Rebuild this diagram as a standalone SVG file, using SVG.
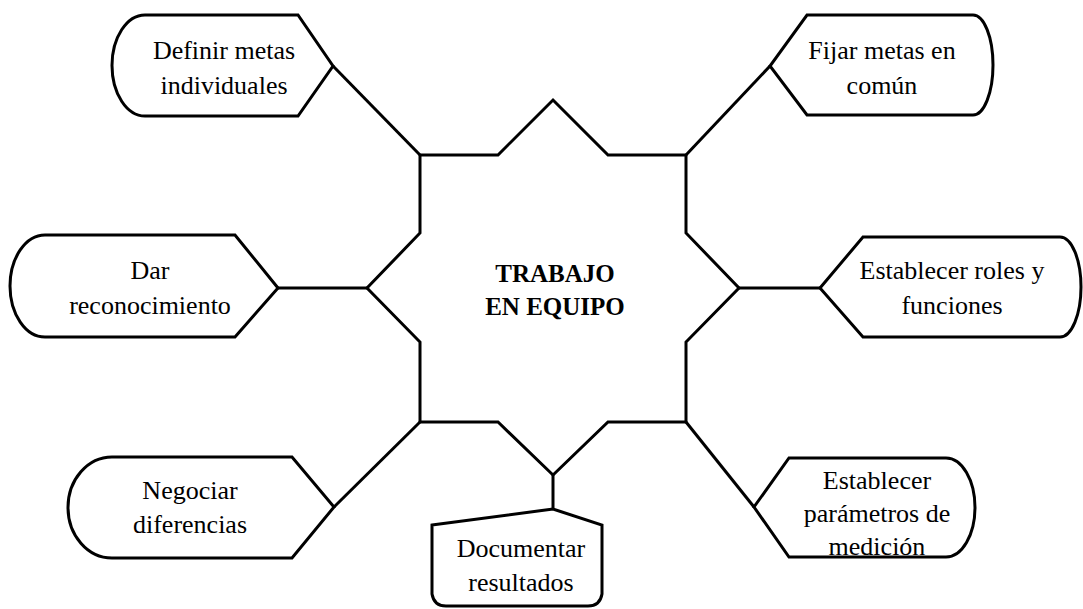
<svg xmlns="http://www.w3.org/2000/svg" width="1083" height="609" viewBox="0 0 1083 609">
<style>
.shape{fill:#fff;stroke:#000;stroke-width:3;stroke-linejoin:miter}
.conn line{stroke:#000;stroke-width:3}
text{font-family:'Liberation Serif','Times New Roman',Times,'DejaVu Serif',serif;fill:#000;text-anchor:middle}
.lbl{font-size:26px}
.ctr{font-size:25px;font-weight:bold}
</style>
<rect width="1083" height="609" fill="#fff"/>
<g id="connectors" class="conn">
<line x1="420" y1="155" x2="333" y2="66"/>
<line x1="686" y1="155" x2="770" y2="66"/>
<line x1="367" y1="288" x2="278" y2="288"/>
<line x1="739" y1="288" x2="820" y2="288"/>
<line x1="420" y1="422" x2="334" y2="507"/>
<line x1="686" y1="422" x2="754" y2="507"/>
<line x1="553" y1="475" x2="553" y2="509"/>
</g>
<g id="center">
<polygon class="shape" points="420,155 498,155 553,100 608,155 686,155 686,233 739,288 686,342 686,422 608,422 553,475 498,422 420,422 420,342 367,288 420,233"/>
<text class="ctr" x="555" y="282">TRABAJO</text>
<text class="ctr" x="555" y="315">EN EQUIPO</text>
</g>
<g id="definir">
<path class="shape" d="M145,15 L298,15 L333,66 L298,116 L145,116 A33,50.5 0 0 1 145,15 Z"/>
<text class="lbl" x="224" y="59">Definir metas</text>
<text class="lbl" x="224" y="94">individuales</text>
</g>
<g id="fijar">
<path class="shape" d="M807,15 L973,15 A20,50 0 0 1 973,115 L807,115 L770,66 Z"/>
<text class="lbl" x="882" y="59">Fijar metas en</text>
<text class="lbl" x="882" y="94">común</text>
</g>
<g id="dar">
<path class="shape" d="M45,235 L235,235 L278,288 L235,337 L45,337 A35,51 0 0 1 45,235 Z"/>
<text class="lbl" x="150" y="279">Dar</text>
<text class="lbl" x="150" y="314">reconocimiento</text>
</g>
<g id="roles">
<path class="shape" d="M863,237 L1060,237 A21,50 0 0 1 1060,337 L863,337 L820,288 Z"/>
<text class="lbl" x="952" y="279">Establecer roles y</text>
<text class="lbl" x="952" y="314">funciones</text>
</g>
<g id="negociar">
<path class="shape" d="M112,457 L292,457 L334,507 L292,558 L112,558 A44,50.5 0 0 1 112,457 Z"/>
<text class="lbl" x="190" y="499">Negociar</text>
<text class="lbl" x="190" y="533">diferencias</text>
</g>
<g id="documentar">
<path class="shape" d="M432,525 L553,509 L602,525 L602,594 Q600,606 588,606 L446,606 Q434,606 432,594 Z"/>
<text class="lbl" x="521" y="557">Documentar</text>
<text class="lbl" x="521" y="591">resultados</text>
</g>
<g id="parametros">
<path class="shape" d="M789,458 L946,458 A29,49.5 0 0 1 946,557 L789,557 L754,507 Z"/>
<text class="lbl" x="877" y="489">Establecer</text>
<text class="lbl" x="877" y="522">parámetros de</text>
<text class="lbl" x="877" y="555">medición</text>
</g>
</svg>
